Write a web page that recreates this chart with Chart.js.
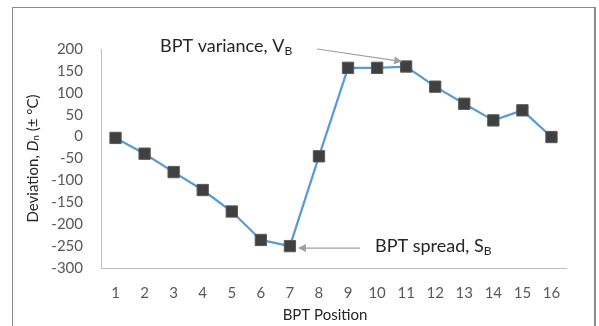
<!DOCTYPE html>
<html lang="en">
<head>
<meta charset="UTF-8" />
<title>BPT deviation</title>
<script src="https://cdn.jsdelivr.net/npm/chart.js"></script>
<style>
  html, body { margin: 0; padding: 0; background: #fff; }
  .wrap { position: relative; width: 599px; height: 326px; overflow: hidden; }
  .frame { position: absolute; left: 12px; top: 7px; width: 581px; height: 340px; border: 1px solid #8c8c8c; border-right-width: 2px; }
  canvas { position: absolute; left: 0; top: 0; }
</style>
</head>
<body>
<div class="wrap">
  <div class="frame"></div>
  <canvas id="chart" width="599" height="326"></canvas>
</div>
<script>
// BPT positions and deviation values
const positions = ['1','2','3','4','5','6','7','8','9','10','11','12','13','14','15','16'];
const deviation = [-3, -39, -81, -122, -171, -236, -250, -45, 157, 157, 160, 114, 75, 37, 60, -1];
const yMin = -300, yMax = 200, yStep = 50;

const FONT = 'Lato, "Open Sans", sans-serif';

// draws a run of text pieces, some of them subscript
function drawRich(ctx, parts, x, y) {
  let cx = x;
  parts.forEach(p => {
    ctx.font = p.font;
    ctx.fillText(p.text, cx, y + (p.dy || 0));
    cx += ctx.measureText(p.text).width;
  });
  return cx;
}
function richWidth(ctx, parts) {
  let w = 0;
  parts.forEach(p => { ctx.font = p.font; w += ctx.measureText(p.text).width; });
  return w;
}
function arrow(ctx, x1, y1, x2, y2) {
  const a = Math.atan2(y2 - y1, x2 - x1);
  const len = 8, hw = 4;
  ctx.beginPath();
  ctx.moveTo(x1, y1);
  ctx.lineTo(x2 - Math.cos(a) * len, y2 - Math.sin(a) * len);
  ctx.stroke();
  ctx.beginPath();
  ctx.moveTo(x2, y2);
  ctx.lineTo(x2 - Math.cos(a) * len - Math.sin(a) * hw, y2 - Math.sin(a) * len + Math.cos(a) * hw);
  ctx.lineTo(x2 - Math.cos(a) * len + Math.sin(a) * hw, y2 - Math.sin(a) * len - Math.cos(a) * hw);
  ctx.closePath();
  ctx.fill();
}

const labelsPlugin = {
  id: 'labels',
  afterDraw(chart) {
    const ctx = chart.ctx;
    const pts = chart.getDatasetMeta(0).data;
    ctx.save();
    ctx.textBaseline = 'middle';
    ctx.fillStyle = '#262626';

    // y axis title
    const yt = [
      { text: 'Deviation, ', font: '15px ' + FONT },
      { text: 'D', font: 'italic 15px ' + FONT },
      { text: 'n', font: '10px ' + FONT, dy: 3 },
      { text: ' (± °C)', font: '15px ' + FONT }
    ];
    ctx.save();
    ctx.translate(33, (chart.chartArea.top + chart.chartArea.bottom) / 2);
    ctx.rotate(-Math.PI / 2);
    drawRich(ctx, yt, -richWidth(ctx, yt) / 2, 0);
    ctx.restore();

    // x axis title
    ctx.font = '15px ' + FONT;
    ctx.textAlign = 'center';
    ctx.fillText('BPT Position', 325, 315);
    ctx.textAlign = 'left';

    // annotations
    const big = '18px ' + FONT, sub = '12px ' + FONT;
    drawRich(ctx, [
      { text: 'BPT variance, V', font: big },
      { text: 'B', font: sub, dy: 5 }
    ], 160, 46);
    drawRich(ctx, [
      { text: 'BPT spread, S', font: big },
      { text: 'B', font: sub, dy: 5 }
    ], 375, 246);

    ctx.strokeStyle = '#a0a0a0';
    ctx.fillStyle = '#a0a0a0';
    ctx.lineWidth = 1.2;
    const p11 = pts[10], p7 = pts[6];
    arrow(ctx, 317, 49, p11.x - 4, p11.y - 5);
    arrow(ctx, 360, p7.y + 2, p7.x + 8, p7.y + 2);
    ctx.restore();
  }
};

new Chart(document.getElementById('chart'), {
  type: 'line',
  data: {
    labels: positions,
    datasets: [{
      data: deviation,
      borderColor: '#5b9bd5',
      borderWidth: 2.25,
      tension: 0,
      pointStyle: 'rect',
      pointRadius: 8,
      pointBackgroundColor: '#404040',
      pointBorderColor: '#5a5a5a',
      pointBorderWidth: 1
    }]
  },
  options: {
    responsive: false,
    animation: false,
    layout: { padding: { top: 49, right: 33, left: 0, bottom: 0 } },
    plugins: { legend: { display: false }, tooltip: { enabled: false } },
    scales: {
      x: {
        offset: true,
        grid: { display: false, drawTicks: false },
        border: { color: '#bfbfbf', width: 1 },
        ticks: { color: '#595959', font: { family: FONT, size: 15 }, padding: 16, maxRotation: 0 },
        afterFit(s) { s.height = 58; }
      },
      y: {
        min: yMin,
        max: yMax,
        grid: { display: false, drawTicks: false },
        border: { color: '#bfbfbf', width: 1 },
        ticks: { stepSize: yStep, color: '#595959', font: { family: FONT, size: 15 }, padding: 18 },
        afterFit(s) { s.width = 101; }
      }
    }
  },
  plugins: [labelsPlugin]
});
</script>
</body>
</html>
